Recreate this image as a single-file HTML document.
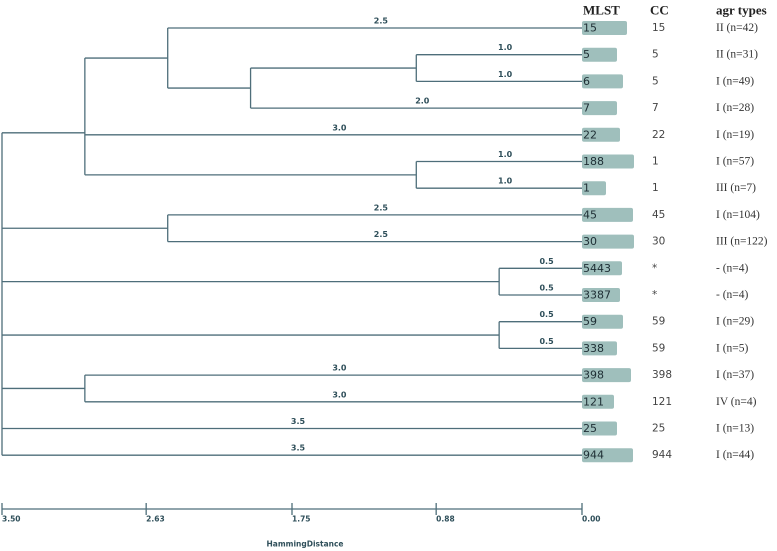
<!DOCTYPE html>
<html><head><meta charset="utf-8"><style>
body{margin:0;background:#fff;width:777px;height:551px;overflow:hidden}
svg{display:block}
</style></head><body>
<svg id="c" width="777" height="551" xmlns="http://www.w3.org/2000/svg"></svg>
<script>
// Leaf data (top to bottom)
const leaves = ["15","5","6","7","22","188","1","45","30","5443","3387","59","338","398","121","25","944"];
const ccValues = ["15","5","5","7","22","1","1","45","30","*","*","59","59","398","121","25","944"];
const agrTypes = ["II (n=42)","II (n=31)","I (n=49)","I (n=28)","I (n=19)","I (n=57)","III (n=7)","I (n=104)","III (n=122)","- (n=4)","- (n=4)","I (n=29)","I (n=5)","I (n=37)","IV (n=4)","I (n=13)","I (n=44)"];
const barWidths = [45,35,41,35,38,52,24,51,52,40,38,41,35,49,32,35,51];
// Internal nodes: [id, distance, children]
const nodes = [
  ["a",1.0,[1,2]],
  ["b",2.0,["a",3]],
  ["c",2.5,[0,"b"]],
  ["d",1.0,[5,6]],
  ["e",3.0,["c",4,"d"]],
  ["f",2.5,[7,8]],
  ["g",0.5,[9,10]],
  ["h",0.5,[11,12]],
  ["i",3.0,[13,14]],
  ["root",3.5,["e","f","g","h","i",15,16]]
];
const ticks = [3.50,2.63,1.75,0.88,0.00];
const branchLabels = {0:"2.5",1:"1.0",2:"1.0",3:"2.0",4:"3.0",5:"1.0",6:"1.0",7:"2.5",8:"2.5",9:"0.5",10:"0.5",11:"0.5",12:"0.5",13:"3.0",14:"3.0",15:"3.5",16:"3.5"};

const svg=document.getElementById('c');
const NS="http://www.w3.org/2000/svg";
const x0=2,x1=582,maxD=3.5;
const xs=d=>x1-(d/maxD)*(x1-x0);
const ys=i=>28+i*26.7;
const col="#4e6e7a";
function mk(t,a,p){const e=document.createElementNS(NS,t);for(const k in a)e.setAttribute(k,a[k]);(p||svg).appendChild(e);return e;}
function line(x1_,y1,x2,y2,name){const l=mk('line',{x1:x1_,y1:y1,x2:x2,y2:y2,stroke:col,'stroke-width':1.3});

return l;}
function txt(x,y,s,st,name,anchor){const t=mk('text',{x:x,y:y,'text-anchor':anchor||'start','dominant-baseline':'central',style:st});t.textContent=s;

return t;}

const nodeMap={};
nodes.forEach(n=>nodeMap[n[0]]=n);
const pos={};
function yOf(c){if(typeof c==='number')return ys(c);return pos[c].y;}
function dOf(c){if(typeof c==='number')return 0;return nodeMap[c][1];}
nodes.forEach(n=>{
  const [id,d,ch]=n;
  const cys=ch.map(yOf);
  const yMin=Math.min(...cys),yMax=Math.max(...cys);
  const nx=xs(d);
  let ny=(yMin+yMax)/2;
  if(id==='e')ny=ys(4)-2;
  pos[id]={x:nx,y:ny};
  line(nx,yMin,nx,yMax,'node-'+id+'-vertical');
  ch.forEach(c=>{
    const cx=xs(dOf(c)),cy=yOf(c);
    line(nx,cy,cx,cy,'branch-'+c);
    if(typeof c==='number'){
      txt((nx+cx)/2+6,cy-7,branchLabels[c],'font:bold 8px "DejaVu Sans",sans-serif;fill:#2f4f5a','branch-length-'+leaves[c],'middle');
    }
  });
});

// leaf bars and labels
leaves.forEach((l,i)=>{
  const y=ys(i);
  const r=mk('rect',{x:x1,y:y-7,width:barWidths[i],height:14,rx:2,fill:'#9fbfbc'});
  
  
  txt(x1+1,y,l,'font:11px "DejaVu Sans",sans-serif;fill:#1e2e34','mlst-'+l);
  txt(652,y,ccValues[i],'font:10.5px "DejaVu Sans",sans-serif;fill:#444','cc-'+l);
  txt(716,y,agrTypes[i],'font:11.5px "Liberation Serif","DejaVu Sans",serif;fill:#333','agr-type-'+l);
});
txt(583,10,'MLST','font:bold 13px "Liberation Serif",serif;fill:#222','mlst-header');
txt(650,10,'CC','font:bold 13px "Liberation Serif",serif;fill:#222','cc-header');
txt(716,10,'agr types','font:bold 13px "Liberation Serif",serif;fill:#222','agr-types-header');

// axis
line(x0,509,x1,509,'x-axis-line');
ticks.forEach(t=>{
  const x=xs(t);
  line(x,503,x,515,'x-tick-'+t.toFixed(2));
  txt(x,519,t.toFixed(2),'font:bold 7.5px "DejaVu Sans",sans-serif;fill:#2f4f5a','x-tick-label-'+t.toFixed(2));
});
txt(305,544,'HammingDistance','font:bold 7.5px "DejaVu Sans",sans-serif;fill:#2f4f5a','x-axis-title','middle');
</script>
</body></html>
